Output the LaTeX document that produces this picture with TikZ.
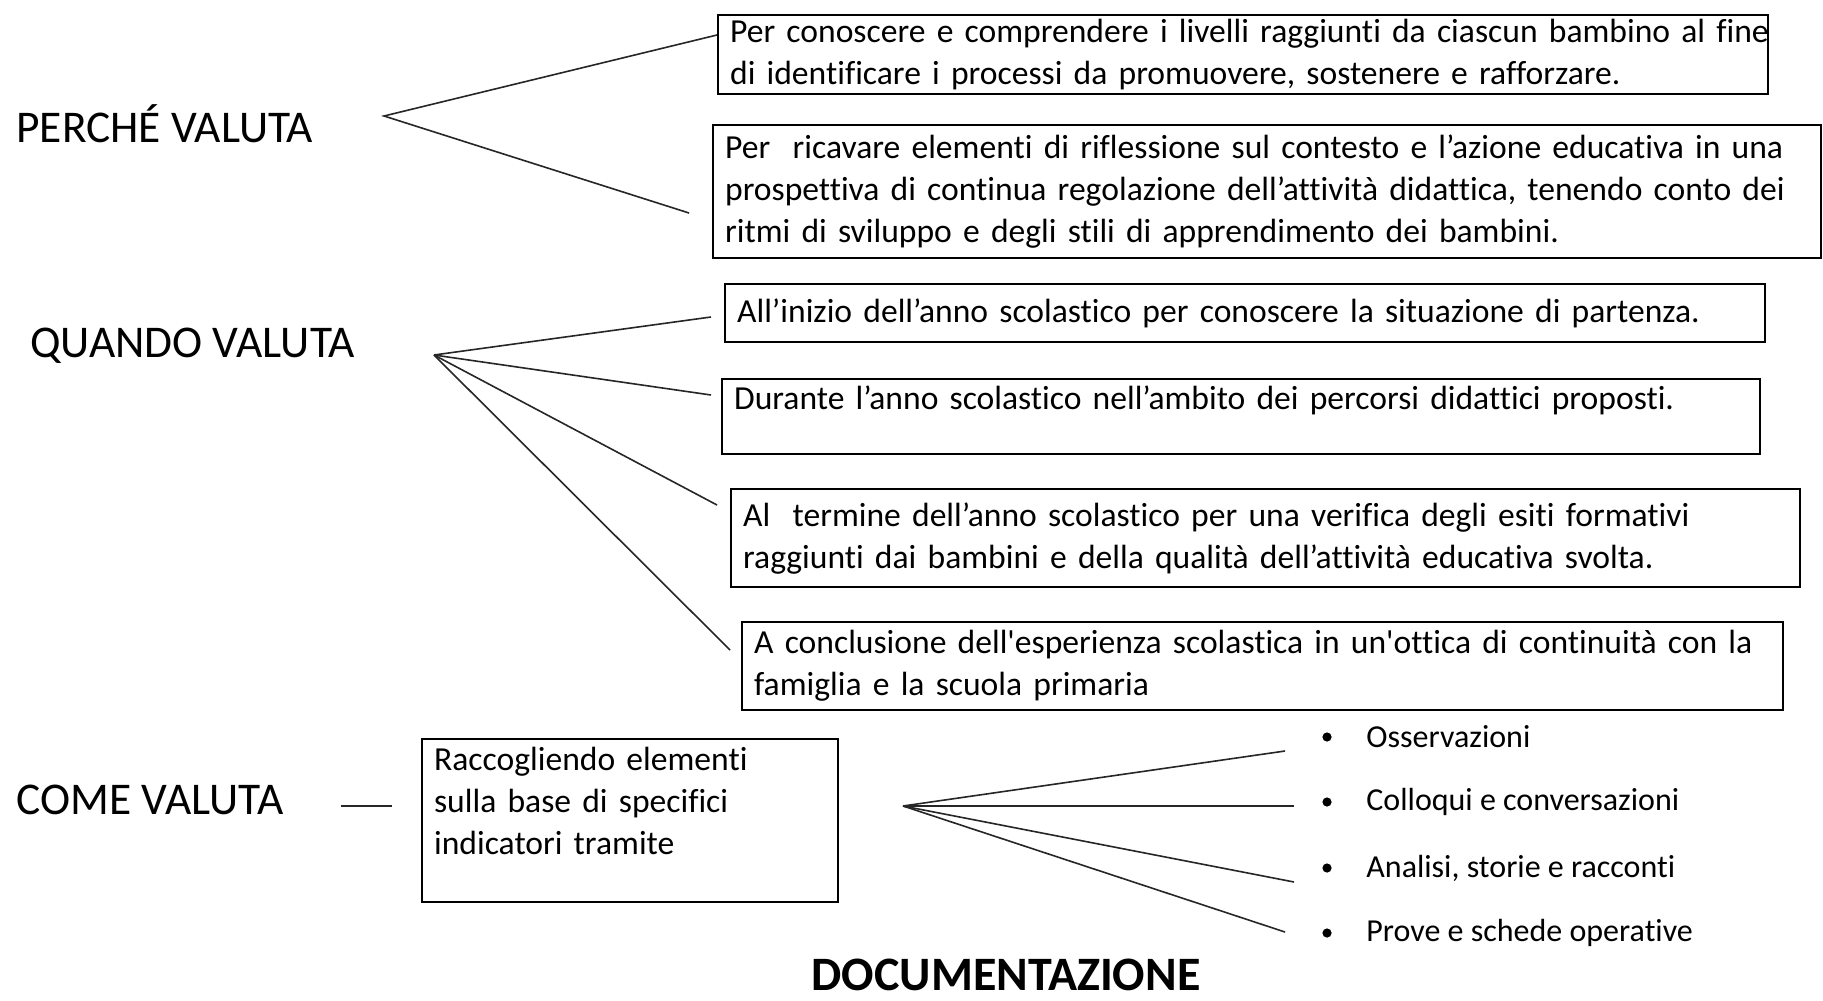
\documentclass[tikz,border=0pt]{standalone}
\usepackage{fontspec}
\setmainfont{Carlito}[Ligatures={TeX,NoCommon}]
\usetikzlibrary{positioning}
\tikzset{
  heading/.style={font=\fontsize{22.7}{26}\selectfont,anchor=west,inner sep=0pt},
  panel/.style={draw=black,line width=1.1pt,anchor=north west,align=left,
    inner xsep=6pt,inner ysep=0pt,font=\fontsize{16.8}{21}\selectfont,text width=#1},
  branch/.style={draw=black!85,line width=0.8pt},
  dot/.style={circle,fill=black,inner sep=0pt,minimum size=4.6pt},
  item/.style={font=\fontsize{16}{19}\selectfont,inner sep=0pt},
}
\begin{document}
\begin{tikzpicture}[x=0.5pt,y=-0.5pt]
  \useasboundingbox (0,0) rectangle (1823,1000);
  % perche
  \node[heading] (perche) at (16,124) {PERCHÉ VALUTA};
  \node[panel=513pt,minimum height=39.5pt] (conoscere) at (717,14)
    {\mbox{Per conoscere e comprendere i livelli raggiunti da ciascun bambino al fine}\\
     di identificare i processi da promuovere, sostenere e rafforzare.};
  \node[panel=542pt,minimum height=66.5pt] (ricavare) at (712,124)
    {Per~ ricavare elementi di riflessione sul contesto e l’azione educativa in una\\
     prospettiva di continua regolazione dell’attività didattica, tenendo conto dei\\
     ritmi di sviluppo e degli stili di apprendimento dei bambini.};
  \coordinate (perche hub) at (384,116);
  \coordinate (conoscere in) at (717,35);
  \coordinate (ricavare in) at (689,213);
  \draw[branch] (conoscere in) -- (perche hub) -- (ricavare in);
  % quando
  \node[heading] (quando) at (30,346) {QUANDO VALUTA};
  \node[panel=508pt,minimum height=29pt] (inizio) at (724,283)
    {All’inizio dell’anno scolastico per conoscere la situazione di partenza.};
  \node[panel=507pt,minimum height=37.5pt] (durante) at (721,378)
    {Durante l’anno scolastico nell’ambito dei percorsi didattici proposti.\\[-8pt]\strut};
  \node[panel=522.5pt,minimum height=49pt] (termine) at (730,488)
    {Al~ termine dell’anno scolastico per una verifica degli esiti formativi\\
     raggiunti dai bambini e della qualità dell’attività educativa svolta.};
  \node[panel=508.5pt,minimum height=44pt] (conclusione) at (741,621)
    {\mbox{A conclusione dell\textquotesingle esperienza scolastica in un\textquotesingle ottica di continuità con la}\\
     famiglia e la scuola primaria};
  \coordinate (quando hub) at (434,355);
  \coordinate (inizio in) at (711,317);
  \coordinate (durante in) at (711,395);
  \coordinate (termine in) at (717,505);
  \coordinate (conclusione in) at (730,650);
  \draw[branch] (quando hub) -- (inizio in);
  \draw[branch] (quando hub) -- (durante in);
  \draw[branch] (quando hub) -- (termine in);
  \draw[branch] (quando hub) -- (conclusione in);
  % come
  \node[heading] (come) at (16,800) {COME VALUTA};
  \node[panel=196pt,minimum height=81.5pt] (raccogliendo) at (421,738)
    {Raccogliendo elementi\\ sulla base di specifici\\ indicatori tramite\\[-7.5pt]\strut};
  \coordinate (come out) at (341,806);
  \coordinate (raccogliendo in) at (392,806);
  \draw[branch,line width=1pt] (come out) -- (raccogliendo in);
  \node[dot] (d1) at (1327,737) {};
  \node[dot] (d2) at (1327,802) {};
  \node[dot] (d3) at (1327,868) {};
  \node[dot] (d4) at (1327,933) {};
  \node[item,right=17pt of d1] (osservazioni) {Osservazioni};
  \node[item,right=17pt of d2] (colloqui) {Colloqui e conversazioni};
  \node[item,right=17pt of d3] (analisi) {Analisi, storie e racconti};
  \node[item,right=17pt of d4] (prove) {Prove e schede operative};
  \coordinate (come hub) at (903,806);
  \coordinate (osservazioni in) at (1285,751);
  \coordinate (colloqui in) at (1294,806);
  \coordinate (analisi in) at (1294,882);
  \coordinate (prove in) at (1285,932);
  \draw[branch] (come hub) -- (osservazioni in);
  \draw[branch] (come hub) -- (colloqui in);
  \draw[branch] (come hub) -- (analisi in);
  \draw[branch] (come hub) -- (prove in);
  \node[font=\fontsize{24}{28}\selectfont\bfseries,inner sep=0pt] (documentazione) at (1006,975) {DOCUMENTAZIONE};
\end{tikzpicture}
\end{document}
